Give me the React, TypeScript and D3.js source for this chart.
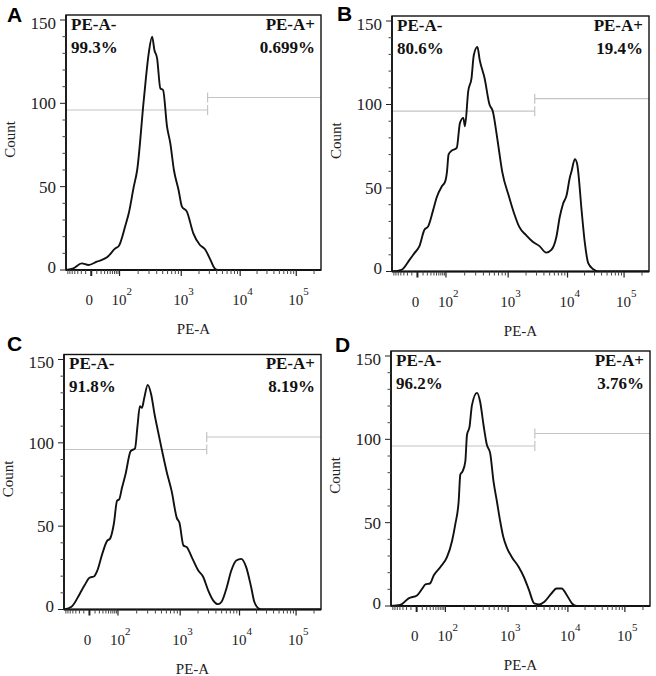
import React from "react";
import * as d3 from "d3";

// ---------- data ----------
const panelLetters = ["A", "B", "C", "D"];
const negLabel = "PE-A-";
const posLabel = "PE-A+";
const negPercents = ["99.3%", "80.6%", "91.8%", "96.2%"];
const posPercents = ["0.699%", "19.4%", "8.19%", "3.76%"];
const xAxisTitle = "PE-A";
const yAxisTitle = "Count";

const yMajorTicks = [0, 50, 100, 150];
const yMinorTicks = [10, 20, 30, 40, 60, 70, 80, 90, 110, 120, 130, 140];
const xMajorTicks = [0, 100, 1000, 10000, 100000];
const xMajorExponents = ["", "2", "3", "4", "5"];
const xMinorTicks = [
  -70, -60, -50, -40, -30, -20, -10,
  10, 20, 30, 40, 50, 60, 70, 80, 90,
  200, 300, 400, 500, 600, 700, 800, 900,
  2000, 3000, 4000, 5000, 6000, 7000, 8000, 9000,
  20000, 30000, 40000, 50000, 60000, 70000, 80000, 90000,
  200000,
];

// gate (PE-A- | PE-A+)
const gateBoundary = 2800;
const gateNegCount = 96;
const gatePosCount = 103.5;

// histograms: [PE-A value, count]
const histA: [number, number][] = [
  [-80, 0], [-45, 1], [-19, 4], [-4.5, 3], [10, 5], [38, 7.6], [75, 13], [95, 14.4],
  [125, 27], [141, 34], [170, 50], [193, 60], [247, 102], [297, 130], [337, 140],
  [367, 132], [406, 127], [458, 109], [507, 108], [588, 86], [665, 76], [760, 60],
  [904, 48], [1027, 38], [1245, 35], [1603, 22], [2073, 15], [2512, 12.6], [3043, 7],
  [3687, 1], [4188, 0], [262144, 0],
];
const histB: [number, number][] = [
  [-80, 0], [-38, 1], [-15, 7], [-5, 11], [3, 15], [13, 25], [22, 27], [37, 36.6],
  [51, 44.5], [75, 51], [95, 54], [104, 60], [110, 70], [120, 72], [149, 74],
  [168, 89], [190, 92], [202, 87], [228, 108], [258, 116], [280, 129.5], [320, 134.5],
  [349, 126.6], [418, 115.7], [501, 100], [566, 96], [678, 78], [800, 60], [1040, 44.5],
  [1265, 34.6], [1538, 26.7], [2003, 21.8], [2596, 17.8], [3373, 15.2], [4385, 11.3],
  [5333, 12.9], [6497, 20.8], [7392, 32.6], [8414, 40.6], [9616, 45.5], [10990, 56.3],
  [11780, 60], [13480, 67.3], [14820, 64.3], [15420, 60], [17730, 36.6], [20290, 16.8],
  [23230, 5], [28510, 1.4], [34990, 0], [262144, 0],
];
const histC: [number, number][] = [
  [-80, 0], [-45, 1.6], [-19, 9.5], [-8.5, 14.5], [0, 19], [8.5, 20], [15, 23.4],
  [28, 33.4], [45, 41.3], [56, 42.4], [75, 51.3], [94, 65.2], [105, 66.2], [116, 73],
  [132, 81], [160, 95], [188, 96.7], [206, 110], [225, 122], [243, 121], [265, 127],
  [301, 134.8], [342, 129], [388, 117], [440, 107], [500, 97], [604, 83], [730, 71],
  [882, 55], [974, 52], [1135, 38.4], [1294, 37.4], [1567, 31.4], [2018, 23.4],
  [2445, 19.5], [2962, 11.5], [3590, 5.5], [4349, 3.2], [4955, 4.5], [6000, 12.5],
  [7270, 23.4], [8810, 29.4], [10710, 30.4], [13110, 25.4], [16030, 13.5],
  [18320, 4.5], [22440, 0.4], [26000, 0], [262144, 0],
];
const histD: [number, number][] = [
  [-80, 0], [-39, 0.6], [-15, 4.6], [1, 6.5], [10, 10.5], [17, 13], [29, 13.5],
  [42, 18.4], [71, 23.4], [106, 29.3], [128, 39.2], [144, 49.1], [163, 63], [173, 78.8],
  [188, 80.8], [208, 86.8], [221, 102.6], [243, 107.6], [265, 120.4], [319, 127.9],
  [359, 122.4], [406, 108.6], [459, 96.7], [518, 91.7], [585, 74.9], [662, 63],
  [747, 51.1], [842, 41.2], [952, 35.2], [1158, 29.3], [1506, 23.4], [1837, 17.4],
  [2240, 9.5], [2730, 1.6], [3325, 1], [4060, 2.6], [5300, 7.5], [6460, 10.5],
  [7880, 10.5], [9610, 6.5], [11760, 1.6], [14390, 0], [262144, 0],
];
const histograms = [histA, histB, histC, histD];

// ---------- scale helpers ----------
const LIN_C = 30;
const tf = (v: number) => {
  const a = Math.abs(v);
  const s = v < 0 ? -1 : 1;
  return a <= 100
    ? s * Math.log10(1 + a / LIN_C)
    : s * (Math.log10(a) - 2 + Math.log10(1 + 100 / LIN_C));
};
const xAnchors = [-80, 0, 100, 1000, 10000, 100000, 262144];
const xAnchorFrac = [0, 0.099, 0.21, 0.452, 0.683, 0.903, 1.0];
const Y_MAX = 153;

const layouts = [
  { L: 66, T: 15, W: 255, H: 255 },
  { L: 392, T: 16, W: 257, H: 255.5 },
  { L: 64, T: 354.5, W: 257, H: 255 },
  { L: 391, T: 351, W: 259, H: 255 },
];
const letterPos = [
  { x: 7, y: 22 },
  { x: 337, y: 21 },
  { x: 7, y: 351 },
  { x: 335, y: 352 },
];

const SERIF = "'Liberation Serif', 'Times New Roman', serif";
const SANS = "'Liberation Sans', Arial, sans-serif";

function Panel({ idx }: { idx: number }) {
  const { L, T, W, H } = layouts[idx];
  const R = L + W;
  const B = T + H;
  const lin = d3
    .scaleLinear()
    .domain(xAnchors.map(tf))
    .range(xAnchorFrac.map((f) => L + f * W))
    .clamp(true);
  const x = (v: number) => lin(tf(v));
  const y = d3.scaleLinear().domain([0, Y_MAX]).range([B, T]);
  const line = d3
    .line<[number, number]>()
    .x((d) => x(d[0]))
    .y((d) => y(d[1]))
    .curve(d3.curveMonotoneX);
  const clipId = `clip${idx}`;
  const gx = x(gateBoundary);
  const gyN = y(gateNegCount);
  const gyP = y(gatePosCount);
  const gateColor = "#c4c4c4";

  return (
    <g>
      <defs>
        <clipPath id={clipId}>
          <rect x={L} y={T} width={W} height={H} />
        </clipPath>
      </defs>
      {/* gate */}
      <g stroke={gateColor} strokeWidth={1.2} fill="none">
        <line x1={L} x2={gx} y1={gyN} y2={gyN} />
        <line x1={gx} x2={gx} y1={gyN - 5} y2={gyN + 5} />
        <line x1={gx} x2={R} y1={gyP} y2={gyP} />
        <line x1={gx} x2={gx} y1={gyP - 5} y2={gyP + 5} />
      </g>
      {/* histogram */}
      <path
        d={line(histograms[idx]) || ""}
        fill="none"
        stroke="#111"
        strokeWidth={1.9}
        strokeLinejoin="round"
        clipPath={`url(#${clipId})`}
      />
      {/* frame */}
      <rect x={L} y={T} width={W} height={H} fill="none" stroke="#111" strokeWidth={1.4} />
      <line x1={L} x2={R} y1={B} y2={B} stroke="#111" strokeWidth={2.2} />
      <line x1={L} x2={L} y1={T} y2={B} stroke="#111" strokeWidth={1.6} />
      {/* y ticks */}
      {yMajorTicks.map((t) => (
        <line key={"ym" + t} x1={L - 6} x2={L} y1={y(t)} y2={y(t)} stroke="#222" strokeWidth={1} />
      ))}
      {yMinorTicks.map((t) => (
        <line key={"yn" + t} x1={L - 3.5} x2={L} y1={y(t)} y2={y(t)} stroke="#444" strokeWidth={1} />
      ))}
      {yMajorTicks.map((t) => (
        <text
          key={"yl" + t}
          x={L - 10}
          y={y(t) + (t === 150 ? 3 : t === 0 ? -3 : 0)}
          dy="0.35em"
          textAnchor="end"
          fontFamily={SERIF}
          fontSize={17}
          fill="#222"
        >
          {t}
        </text>
      ))}
      {/* x ticks */}
      {xMinorTicks.map((t) => (
        <line key={"xn" + t} x1={x(t)} x2={x(t)} y1={B} y2={B + 4} stroke="#444" strokeWidth={1} />
      ))}
      {xMajorTicks.map((t) => (
        <line
          key={"xm" + t}
          x1={x(t)}
          x2={x(t)}
          y1={B}
          y2={B + 6}
          stroke="#222"
          strokeWidth={t === 0 ? 2 : 1.2}
        />
      ))}
      {xMajorTicks.map((t, i) =>
        t === 0 ? (
          <text
            key={"xl" + t}
            x={x(t) - 2}
            y={B + 35}
            textAnchor="middle"
            fontFamily={SERIF}
            fontSize={15}
            fill="#222"
          >
            0
          </text>
        ) : (
          <text key={"xl" + t} x={x(t) - 8} y={B + 35} fontFamily={SERIF} fontSize={15} fill="#222">
            10
            <tspan fontSize={11} dy={-10}>
              {xMajorExponents[i]}
            </tspan>
          </text>
        )
      )}
      {/* axis titles */}
      <text
        x={L + W / 2}
        y={B + 64}
        textAnchor="middle"
        fontFamily={SERIF}
        fontSize={15}
        fill="#222"
      >
        {xAxisTitle}
      </text>
      <text
        transform={`translate(${L - 51},${T + H / 2 - 3}) rotate(-90)`}
        textAnchor="middle"
        fontFamily={SERIF}
        fontSize={15}
        fill="#222"
      >
        {yAxisTitle}
      </text>
      {/* gate labels */}
      <g fontFamily={SERIF} fontWeight="bold" fontSize={17} fill="#111">
        <text x={L + 5} y={T + 14.5}>{negLabel}</text>
        <text x={L + 5} y={T + 37.5}>{negPercents[idx]}</text>
        <text x={R - 6} y={T + 14.5} textAnchor="end">{posLabel}</text>
        <text x={R - 6} y={T + 37.5} textAnchor="end">{posPercents[idx]}</text>
      </g>
      {/* panel letter */}
      <text
        x={letterPos[idx].x}
        y={letterPos[idx].y}
        fontFamily={SANS}
        fontWeight="bold"
        fontSize={21}
        fill="#000"
      >
        {panelLetters[idx]}
      </text>
    </g>
  );
}

export default function App() {
  return (
    <svg
      width={656}
      height={676}
      viewBox="0 0 656 676"
      style={{ position: "absolute", left: 0, top: 0, background: "#fff" }}
    >
      <rect x={0} y={0} width={656} height={676} fill="#fff" />
      {[0, 1, 2, 3].map((i) => (
        <Panel key={i} idx={i} />
      ))}
    </svg>
  );
}
